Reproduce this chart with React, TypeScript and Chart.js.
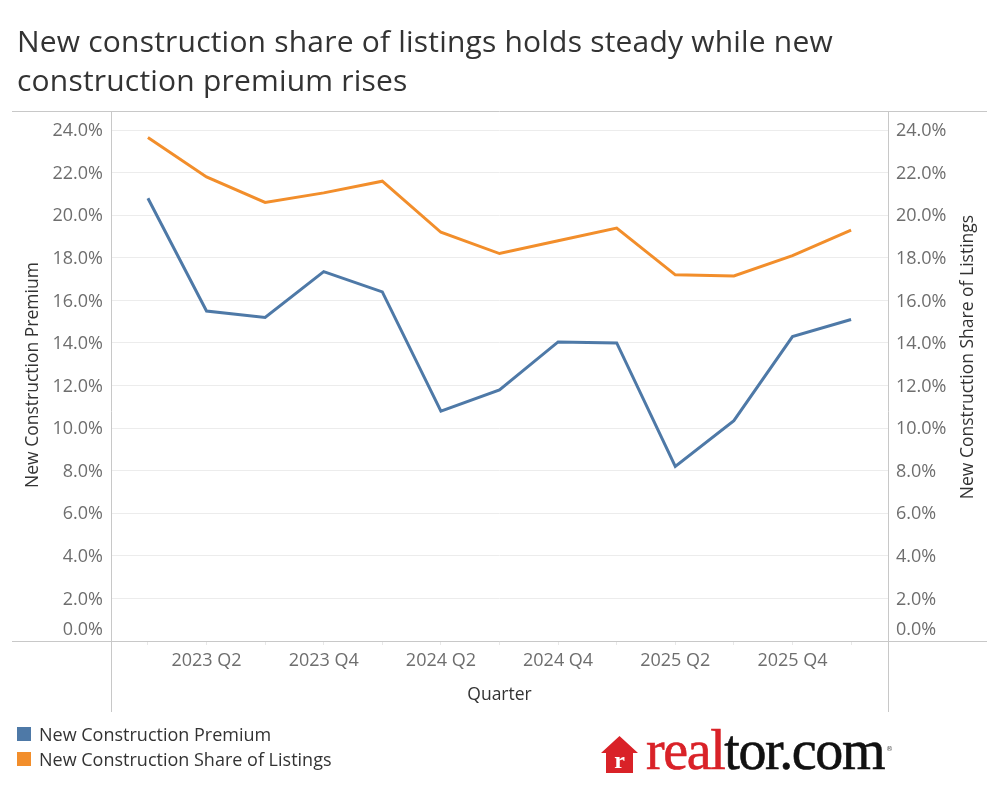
import React, { useEffect, useRef } from "react";
import { Chart, registerables } from "chart.js";

Chart.register(...registerables);

// Quarterly series (percent)
const quarters = [
  "2023 Q1", "2023 Q2", "2023 Q3", "2023 Q4",
  "2024 Q1", "2024 Q2", "2024 Q3", "2024 Q4",
  "2025 Q1", "2025 Q2", "2025 Q3", "2025 Q4",
  "2026 Q1",
];
const premium = [20.8, 15.5, 15.2, 17.35, 16.4, 10.8, 11.8, 14.05, 14.0, 8.2, 10.35, 14.3, 15.1];
const shareOfListings = [23.65, 21.8, 20.6, 21.05, 21.6, 19.2, 18.2, 18.8, 19.4, 17.2, 17.15, 18.1, 19.3];
const yTickValues = [0, 2, 4, 6, 8, 10, 12, 14, 16, 18, 20, 22, 24];

const BLUE = "#4e79a7";
const ORANGE = "#f28e2b";
const FRAME = "#c8c8c8";
const TICK_TEXT = "#6e6e6e";
const TITLE_TEXT = "#333333";
const FONT = "'Open Sans', 'Noto Sans', sans-serif";

const pct = (v: number) => `${v.toFixed(1)}%`;

// Frame lines, y tick labels on both sides and axis titles
const framePlugin = {
  id: "frame",
  afterDraw(chart: any) {
    const { ctx, chartArea } = chart;
    const { left, right, top, bottom } = chartArea;
    const yL = chart.scales.y;
    ctx.save();
    ctx.strokeStyle = FRAME;
    ctx.lineWidth = 1;
    ctx.beginPath();
    ctx.moveTo(12, Math.round(top) - 0.5);
    ctx.lineTo(987, Math.round(top) - 0.5);
    ctx.moveTo(12, Math.round(bottom) + 0.5);
    ctx.lineTo(987, Math.round(bottom) + 0.5);
    ctx.moveTo(Math.round(left) + 0.5, top - 1);
    ctx.lineTo(Math.round(left) + 0.5, 712);
    ctx.moveTo(Math.round(right) + 0.5, top - 1);
    ctx.lineTo(Math.round(right) + 0.5, 712);
    ctx.stroke();

    ctx.font = `18px ${FONT}`;
    ctx.fillStyle = TICK_TEXT;
    ctx.textBaseline = "middle";
    yTickValues.forEach((v) => {
      const y = Math.min(yL.getPixelForValue(v), bottom - 12) + 1;
      ctx.textAlign = "right";
      ctx.fillText(pct(v), left - 8, y);
      ctx.textAlign = "left";
      ctx.fillText(pct(v), right + 8, y);
    });

    ctx.fillStyle = TITLE_TEXT;
    ctx.font = `17.5px ${FONT}`;
    ctx.textAlign = "center";
    ctx.save();
    ctx.translate(33, 375);
    ctx.rotate(-Math.PI / 2);
    ctx.fillText("New Construction Premium", 0, 0);
    ctx.restore();
    ctx.save();
    ctx.translate(968, 357);
    ctx.rotate(-Math.PI / 2);
    ctx.fillText("New Construction Share of Listings", 0, 0);
    ctx.restore();
    ctx.fillText("Quarter", (left + right) / 2, 695);
    ctx.restore();
  },
};

function LineChart() {
  const canvasRef = useRef<HTMLCanvasElement | null>(null);

  useEffect(() => {
    const canvas = canvasRef.current;
    if (!canvas) return;
    const chart = new Chart(canvas, {
      type: "line",
      data: {
        datasets: [
          {
            label: "New Construction Premium",
            data: premium.map((v, i) => ({ x: i, y: v })),
            borderColor: BLUE,
            backgroundColor: BLUE,
            borderWidth: 3,
            pointRadius: 0,
            tension: 0,
            yAxisID: "y",
          },
          {
            label: "New Construction Share of Listings",
            data: shareOfListings.map((v, i) => ({ x: i, y: v })),
            borderColor: ORANGE,
            backgroundColor: ORANGE,
            borderWidth: 3,
            pointRadius: 0,
            tension: 0,
            yAxisID: "y2",
          },
        ],
      },
      options: {
        animation: false,
        responsive: false,
        layout: { padding: { top: 112, left: 0, right: 0, bottom: 0 } },
        plugins: {
          legend: { display: false },
          tooltip: { enabled: false },
        },
        scales: {
          x: {
            type: "linear",
            min: -0.63,
            max: quarters.length - 1 + 0.63,
            afterBuildTicks: (s: any) => {
              s.ticks = quarters.map((_, i) => ({ value: i }));
            },
            afterFit: (s: any) => {
              s.height = 159;
            },
            border: { display: false },
            grid: {
              drawOnChartArea: false,
              drawTicks: true,
              tickLength: 4,
              color: "#e8e8e8",
            },
            ticks: {
              autoSkip: false,
              maxRotation: 0,
              padding: 5,
              color: TICK_TEXT,
              font: { family: FONT, size: 18 },
              callback: (v: any) => {
                const i = Math.round(Number(v));
                return i % 2 === 1 ? quarters[i] : "";
              },
            },
          },
          y: {
            position: "left",
            min: 0,
            max: 24.85,
            afterBuildTicks: (s: any) => {
              s.ticks = yTickValues.map((v) => ({ value: v }));
            },
            afterFit: (s: any) => {
              s.width = 111;
            },
            border: { display: false },
            grid: {
              drawTicks: false,
              color: (c: any) => (c.tick && c.tick.value === 0 ? "rgba(0,0,0,0)" : "#ececec"),
            },
            ticks: { display: false },
          },
          y2: {
            position: "right",
            min: 0,
            max: 24.85,
            afterFit: (s: any) => {
              s.width = 112;
            },
            border: { display: false },
            grid: { display: false },
            ticks: { display: false },
          },
        },
      },
      plugins: [framePlugin],
    });
    return () => chart.destroy();
  }, []);

  return <canvas ref={canvasRef} width={1000} height={800} style={{ position: "absolute", left: 0, top: 0 }} />;
}

function Legend() {
  const items = [
    { label: "New Construction Premium", color: BLUE },
    { label: "New Construction Share of Listings", color: ORANGE },
  ];
  return (
    <div style={{ position: "absolute", left: 17, top: 721, fontFamily: FONT, fontSize: 18, color: TITLE_TEXT }}>
      {items.map((it) => (
        <div key={it.label} style={{ display: "flex", alignItems: "center", height: 25 }}>
          <span style={{ width: 14, height: 14, background: it.color, display: "inline-block", marginRight: 8 }} />
          <span>{it.label}</span>
        </div>
      ))}
    </div>
  );
}

function Logo() {
  return (
    <div style={{ position: "absolute", left: 601, top: 722, width: 300, height: 56 }}>
      <div style={{ position: "absolute", left: 0, bottom: 0, display: "flex", alignItems: "flex-end" }}>
        <svg width={37} height={37} viewBox="0 0 37 37" style={{ marginBottom: 5, marginRight: 8 }}>
          <polygon points="18.5,0 37,17 32,17 32,37 5,37 5,17 0,17" fill="#d92228" />
          <text x="18.5" y="32" textAnchor="middle" fill="#ffffff" fontFamily="'Liberation Serif', serif" fontWeight="bold" fontSize="24">r</text>
        </svg>
        <span
          style={{
            fontFamily: "'Liberation Serif', 'DejaVu Serif', serif",
            fontSize: 56,
            letterSpacing: -1.4,
            lineHeight: "56px",
            WebkitTextStroke: "0.6px currentColor",
          }}
        >
          <span style={{ color: "#d92228" }}>real</span>
          <span style={{ color: "#111111" }}>tor.com</span>
        </span>
      </div>
      <span
        style={{
          position: "absolute",
          left: 285,
          top: 24,
          fontFamily: "'DejaVu Sans', sans-serif",
          fontSize: 7,
          lineHeight: "7px",
          color: "#555",
        }}
      >
        ®
      </span>
    </div>
  );
}

export default function App() {
  return (
    <div style={{ position: "absolute", left: 0, top: 0, width: 1000, height: 800, background: "#ffffff" }}>
      <LineChart />
      <div
        style={{
          position: "absolute",
          left: 17,
          top: 21,
          width: 950,
          fontFamily: FONT,
          fontSize: 30,
          letterSpacing: 0.2,
          lineHeight: "39px",
          color: TITLE_TEXT,
        }}
      >
        New construction share of listings holds steady while new
        <br />
        construction premium rises
      </div>
      <Legend />
      <Logo />
    </div>
  );
}
